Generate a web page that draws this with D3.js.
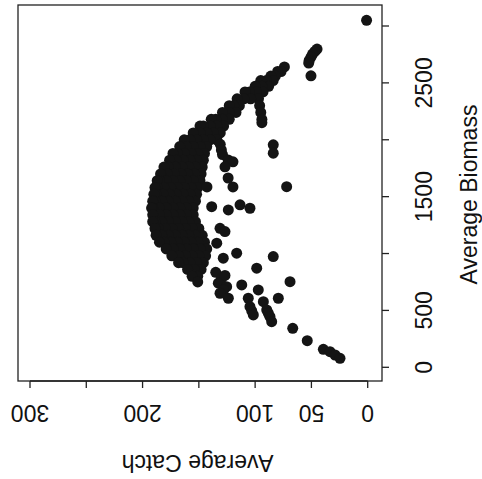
<!DOCTYPE html>
<html>
<head>
<meta charset="utf-8">
<script src="https://cdn.jsdelivr.net/npm/d3@7"></script>
<style>
  body { margin: 0; background: #fff; }
  text { font-family: "Liberation Sans", Arial, sans-serif; fill: #111; }
</style>
</head>
<body>
<div id="chart"></div>
<script>
const catchTicks = [0, 50, 100, 150, 200, 250, 300];
const catchLabels = ["0", "50", "100", "", "200", "", "300"];
const biomassTicks = [0, 500, 1000, 1500, 2000, 2500, 3000];
const biomassLabels = ["0", "500", "", "1500", "", "2500", ""];

// dense band of runs: one biomass level per row, with the catches read along it
const bandBiomass = [2640, 2600, 2560, 2520, 2470, 2420, 2360, 2300, 2240, 2180,
  2120, 2060, 2000, 1940, 1880, 1820, 1760, 1700, 1640, 1580, 1520, 1460, 1400,
  1340, 1280, 1220, 1160, 1100, 1040, 980, 920, 860, 800, 750];
const bandCatch = [
  [74],
  [77, 80],
  [82, 86],
  [84, 90, 95],
  [88, 94, 100],
  [93, 99, 105, 109],
  [97, 104, 110, 116],
  [96, 114, 119, 123],
  [95, 117, 123, 129],
  [94, 123, 129, 135, 139],
  [128, 134, 140, 146, 149],
  [131, 137, 143, 149, 155],
  [134, 140, 146, 152, 158, 163],
  [143, 149, 155, 161, 167],
  [145, 151, 157, 163, 169, 173],
  [146, 152, 158, 164, 170, 176],
  [147, 153, 159, 165, 171, 177, 181],
  [148, 154, 160, 166, 172, 178, 184],
  [149, 155, 161, 167, 173, 179, 185, 187],
  [151, 157, 163, 169, 175, 181, 187, 189],
  [152, 158, 164, 170, 176, 182, 188, 190],
  [153, 159, 165, 171, 177, 183, 189, 191],
  [155, 161, 167, 173, 179, 185, 191, 192],
  [155, 161, 167, 173, 179, 185, 191],
  [153, 159, 165, 171, 177, 183, 189, 191],
  [150, 156, 162, 168, 174, 180, 186, 189],
  [147, 153, 159, 165, 171, 177, 183, 188],
  [145, 151, 157, 163, 169, 175, 181, 185],
  [143, 149, 155, 161, 167, 173, 179],
  [144, 150, 156, 162, 168, 174],
  [146, 152, 158, 164, 168],
  [148, 154, 160],
  [151, 156],
  [151]
];

// scattered runs outside the band
const looseCatch = [1, 45, 47, 49, 50.4, 52, 52.4, 50.4, 94,
  131, 130, 129, 124, 119.7, 126.8, 124, 119.7, 142.8, 83.9, 83.9, 72,
  138.6, 123.8, 113.4, 104.6, 131.2, 126.8, 134.1, 116.4, 128.3, 83.9, 98.6,
  135, 130, 126.8, 132.7, 125.3, 128, 131.2, 123.8, 111.9, 97.2, 69, 79.4,
  106.1, 104.6, 103, 101.6, 92.7, 89.7, 88.3, 86.8, 85.3,
  66.6, 53.7, 39.4, 33.5, 29, 24.6];
const looseBiomass = [3050, 2797, 2776, 2753, 2726, 2697, 2674, 2562, 2150,
  1960, 1910, 1870, 1823, 1806, 1762, 1664, 1585, 1585, 1956, 1882, 1588,
  1412, 1383, 1428, 1398, 1222, 1193, 1091, 1003, 959, 973, 871,
  835, 780, 808, 739, 709, 680, 651, 607, 724, 680, 753, 607,
  607, 533, 495, 460, 577, 504, 475, 445, 401,
  343, 234, 158, 137, 108, 79];

const box = {left: 18, right: 382, top: 5, bottom: 381};
const width = 482;
const height = 479;
const fontSize = 23;

const points = [];
bandBiomass.forEach((b, i) => bandCatch[i].forEach(c => points.push({c: c, b: b})));
looseCatch.forEach((c, i) => points.push({c: c, b: looseBiomass[i]}));

// the figure is an R plot turned on its side: catch runs right to left
const x = d3.scaleLinear().domain([0, 300]).range([367.7, 30]);
const y = d3.scaleLinear().domain([0, 3000]).range([367.3, 26]);

const svg = d3.select("#chart").append("svg")
  .attr("width", width)
  .attr("height", height);

svg.append("g")
  .attr("fill", "#141414")
  .selectAll("circle")
  .data(points)
  .join("circle")
    .attr("cx", d => x(d.c))
    .attr("cy", d => y(d.b))
    .attr("r", 5.5);

svg.append("rect")
  .attr("x", box.left)
  .attr("y", box.top)
  .attr("width", box.right - box.left)
  .attr("height", box.bottom - box.top)
  .attr("fill", "none")
  .attr("stroke", "#222")
  .attr("stroke-width", 1.3);

// bottom axis (catch), labels upside down
const bottom = svg.append("g");
bottom.append("line")
  .attr("x1", x(0)).attr("x2", x(300))
  .attr("y1", box.bottom).attr("y2", box.bottom)
  .attr("stroke", "#222").attr("stroke-width", 1.3);
bottom.selectAll("line.tick")
  .data(catchTicks)
  .join("line")
    .attr("class", "tick")
    .attr("x1", d => x(d)).attr("x2", d => x(d))
    .attr("y1", box.bottom).attr("y2", box.bottom + 7)
    .attr("stroke", "#222").attr("stroke-width", 1.3);
bottom.selectAll("text")
  .data(catchTicks)
  .join("text")
    .attr("x", d => x(d))
    .attr("y", 405)
    .attr("font-size", fontSize)
    .attr("text-anchor", "middle")
    .attr("transform", d => `rotate(180, ${x(d)}, 405)`)
    .text((d, i) => catchLabels[i]);
svg.append("text")
  .attr("x", 197.5)
  .attr("y", 455)
  .attr("font-size", fontSize)
  .attr("text-anchor", "middle")
  .attr("transform", "rotate(180, 197.5, 455)")
  .text("Average Catch");

// right axis (biomass), labels read upward
const right = svg.append("g");
right.selectAll("line")
  .data(biomassTicks)
  .join("line")
    .attr("x1", box.right).attr("x2", box.right + 7)
    .attr("y1", d => y(d)).attr("y2", d => y(d))
    .attr("stroke", "#222").attr("stroke-width", 1.3);
right.selectAll("text")
  .data(biomassTicks)
  .join("text")
    .attr("x", 432)
    .attr("y", d => y(d))
    .attr("font-size", fontSize)
    .attr("text-anchor", "middle")
    .attr("transform", d => `rotate(-90, 432, ${y(d)})`)
    .text((d, i) => biomassLabels[i]);
svg.append("text")
  .attr("x", 477)
  .attr("y", 194.5)
  .attr("font-size", fontSize)
  .attr("text-anchor", "middle")
  .attr("transform", "rotate(-90, 477, 194.5)")
  .text("Average Biomass");
</script>
</body>
</html>
